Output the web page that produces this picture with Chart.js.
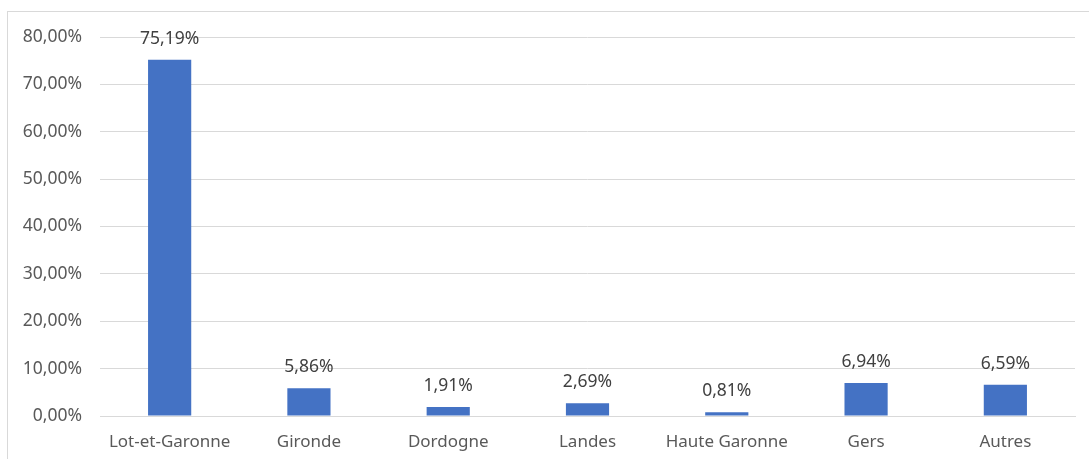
<!DOCTYPE html>
<html><head><meta charset="utf-8">
<script src="https://cdn.jsdelivr.net/npm/chart.js@4/dist/chart.umd.min.js"></script>
<style>
html,body{margin:0;padding:0;background:#fff;overflow:hidden}
#wrap{position:relative;width:1089px;height:459px}
#frame{position:absolute;left:7px;top:11px;width:1200px;height:600px;border:1px solid #d9d9d9;box-sizing:border-box}
canvas{position:absolute;left:0;top:0}
</style></head><body>
<div id="wrap"><div id="frame"></div><canvas id="c" width="1089" height="459"></canvas></div>
<script>
const categories = ["Lot-et-Garonne","Gironde","Dordogne","Landes","Haute Garonne","Gers","Autres"];
const values = [75.19, 5.86, 1.91, 2.69, 0.81, 6.94, 6.59];
const fmt = v => v.toFixed(2).replace('.', ',') + '%';
const FONT = "'Noto Sans', sans-serif";

const labelPlugin = {
  id: 'barLabels',
  afterDatasetsDraw(chart){
    const ctx = chart.ctx;
    const meta = chart.getDatasetMeta(0);
    ctx.save();
    ctx.font = "17.5px " + FONT;
    ctx.fillStyle = '#404040';
    ctx.textAlign = 'center';
    ctx.textBaseline = 'middle';
    meta.data.forEach((bar, i) => {
      ctx.fillText(fmt(values[i]), bar.x, bar.y - 21);
    });
    ctx.restore();
  }
};

new Chart(document.getElementById('c'), {
  type: 'bar',
  data: { labels: categories, datasets: [{ data: values, backgroundColor: '#4472C4', categoryPercentage: 1, barPercentage: 0.31 }] },
  options: {
    responsive: false, animation: false,
    layout: { padding: { top: 37, right: 14, left: 0, bottom: 0 } },
    plugins: { legend: { display: false }, tooltip: { enabled: false } },
    scales: {
      x: {
        grid: { display: false, drawTicks: false },
        border: { display: true, color: '#d9d9d9' },
        ticks: { color: '#595959', font: { family: FONT, size: 17 }, padding: 16, maxRotation: 0 },
        afterFit(s){ s.height = 43; }
      },
      y: {
        min: 0, max: 80,
        grid: { color: '#d9d9d9', drawTicks: false },
        border: { display: false },
        ticks: { stepSize: 10, color: '#595959', font: { family: FONT, size: 17.5 }, padding: 18, callback: v => fmt(v) },
        afterFit(s){ s.width = 100; }
      }
    }
  },
  plugins: [labelPlugin]
});
</script>
</body></html>
